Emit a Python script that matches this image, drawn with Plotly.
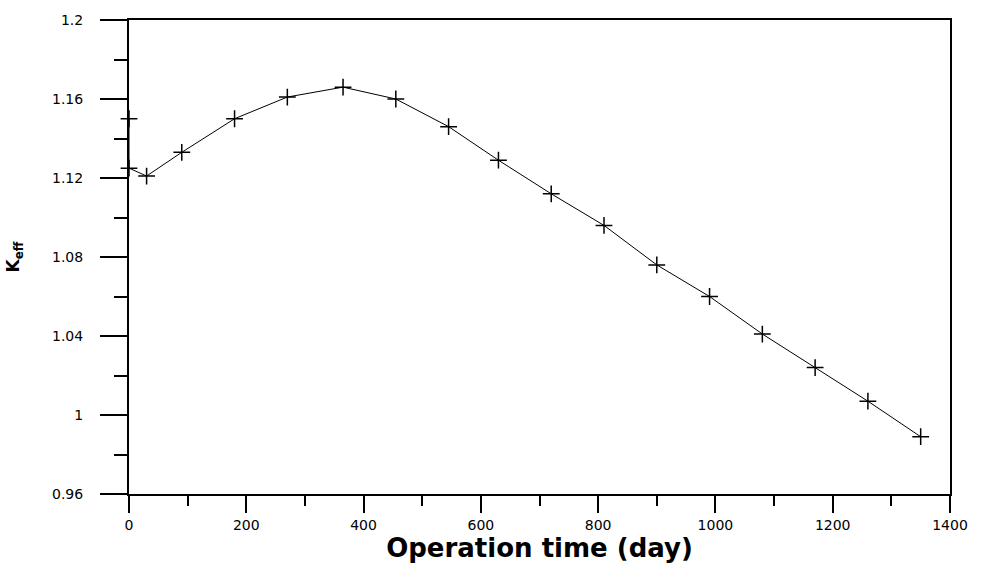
import plotly.graph_objects as go

days = [0, 0, 30, 90, 180, 270, 365, 455, 545, 630, 720, 810, 900, 990, 1080, 1170, 1260, 1350]
keff = [1.150, 1.125, 1.121, 1.133, 1.150, 1.161, 1.166, 1.160, 1.146, 1.129, 1.112, 1.096, 1.076, 1.060, 1.041, 1.024, 1.007, 0.989]

y_tickvals = [0.96, 1.0, 1.04, 1.08, 1.12, 1.16, 1.2]
y_ticktext = ["0.96", "1", "1.04", "1.08", "1.12", "1.16", "1.2"]
x_tickvals = [0, 200, 400, 600, 800, 1000, 1200, 1400]
x_ticktext = ["0", "200", "400", "600", "800", "1000", "1200", "1400"]

fig = go.Figure()
fig.add_trace(go.Scatter(
    x=days, y=keff, mode="lines+markers",
    line=dict(color="black", width=1),
    marker=dict(symbol="cross-thin-open", size=12, color="black",
                line=dict(color="black", width=1.5)),
    cliponaxis=False, showlegend=False,
))

fig.update_layout(
    width=981, height=563,
    margin=dict(l=128, r=31, t=13, b=68),
    paper_bgcolor="white", plot_bgcolor="white",
    font=dict(family="DejaVu Sans", color="black", size=12),
)
fig.update_xaxes(
    range=[0, 1400], tickvals=x_tickvals, ticktext=x_ticktext,
    showgrid=False, zeroline=False,
    showline=True, linecolor="black", linewidth=1.5, mirror=True,
    ticks="outside", ticklen=17, tickwidth=2, tickcolor="black",
    minor=dict(dtick=100, tick0=0, ticks="outside", ticklen=10, tickwidth=2, tickcolor="black"),
    tickfont=dict(family="DejaVu Sans", size=14),
    title=dict(text="<b>Operation time (day)</b>", font=dict(family="DejaVu Sans", size=26), standoff=0),
)
fig.update_yaxes(
    range=[0.96, 1.2], tickvals=y_tickvals, ticktext=y_ticktext,
    showgrid=False, zeroline=False,
    showline=True, linecolor="black", linewidth=2, mirror=True,
    ticks="outside", ticklen=27, tickwidth=1.5, tickcolor="black",
    minor=dict(dtick=0.02, tick0=0.96, ticks="outside", ticklen=13, tickwidth=1.5, tickcolor="black"),
    tickfont=dict(family="DejaVu Sans", size=14),
    ticklabelstandoff=14,
    title=dict(text="<b>K<sub>eff</sub></b>", font=dict(family="DejaVu Sans", size=17), standoff=28),
)

fig.write_html("out.html")
